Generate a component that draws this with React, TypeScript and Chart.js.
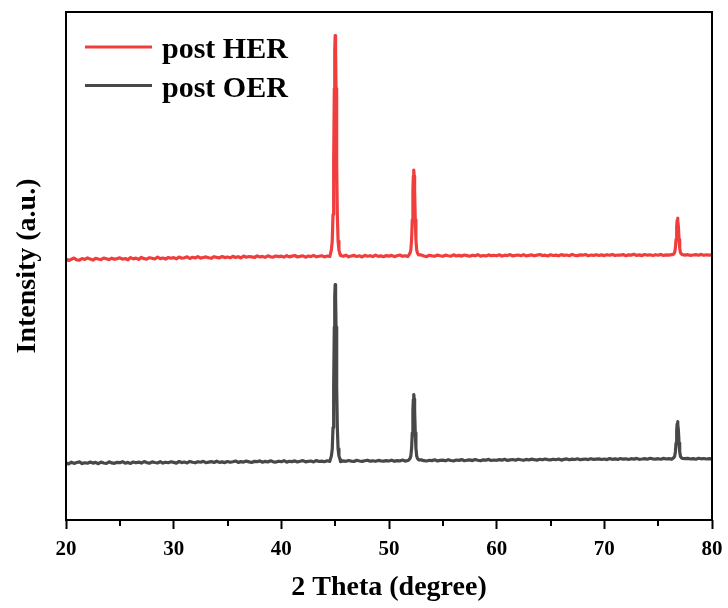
import { useEffect, useRef } from "react";
import { Chart, registerables } from "chart.js";

Chart.register(...registerables);

// Baseline samples: start angle 20°, spacing 0.25°
const gridStart = 20;
const gridStep = 0.25;

const herBaseline = [
  261, 259.5, 260.8, 261.9, 260.2, 259.8, 261.5, 260.6, 262.1, 260.9, 259.9, 261.7, 261.0, 260.3, 262.0, 261.2, 260.4, 261.8, 260.7, 261.4,
  262.2, 260.8, 261.5, 260.2, 262.4, 261.1, 261.9, 260.6, 262.6, 261.3, 260.9, 262.3, 261.7, 261.0, 262.8, 261.4, 262.0, 260.9, 262.5, 261.8,
  262.4, 261.2, 263.0, 261.8, 262.3, 263.2, 261.5, 262.7, 262.0, 263.4, 261.9, 262.5, 263.1, 262.2, 261.7, 263.3, 262.6, 262.1, 263.5, 262.4,
  263.0, 262.2, 263.7, 262.6, 263.3, 262.0, 264.0, 262.8, 263.5, 263.1, 262.5, 264.1, 263.0, 263.6, 262.7, 264.2, 263.2, 262.9, 264.0, 263.4,
  263.8, 262.9, 264.3, 263.1, 263.9, 264.5, 263.0, 263.6, 264.2, 262.8, 264.0, 263.4, 264.6, 263.2, 263.8, 264.3, 263.1, 264.0, 263.5, 264.2,
  264.1, 263.3, 264.5, 263.7, 264.8, 263.2, 264.0, 264.6, 263.5, 264.2, 263.0, 264.7, 263.8, 264.3, 263.4, 264.9, 263.6, 264.1, 263.3, 264.4,
  263.9, 264.6, 263.4, 264.2, 265.0, 263.7, 264.3, 263.5, 264.8, 263.9, 264.4, 263.6, 265.1, 264.0, 263.4, 264.7, 264.1, 263.8, 264.9, 264.2,
  263.7, 264.9, 264.3, 263.8, 265.2, 264.0, 264.6, 263.9, 265.0, 264.4, 263.8, 264.8, 264.2, 265.3, 263.9, 264.5, 264.1, 265.1, 264.3, 264.7,
  264.2, 265.2, 263.9, 264.8, 264.4, 265.4, 264.0, 264.7, 265.0, 264.3, 265.3, 264.1, 264.6, 265.1, 264.2, 264.9, 265.5, 264.4, 264.8, 264.0,
  265.2, 264.5, 264.9, 264.2, 265.4, 264.6, 265.0, 264.3, 265.6, 264.7, 264.4, 265.2, 264.8, 265.5, 264.3, 265.0, 264.6, 265.3, 264.5, 265.1,
  264.4, 265.3, 264.7, 265.6, 264.5, 265.0, 264.8, 265.4, 264.3, 265.2, 264.9, 265.7, 264.6, 265.1, 264.4, 265.5, 264.8, 265.2, 264.5, 265.3,
  264.8, 265.6, 264.6, 265.1, 264.9, 265.4, 264.7, 265.2, 264.5, 265.5, 264.9, 265.3, 264.6, 265.0, 265.4, 264.8, 265.6, 264.7, 265.2, 264.9,
  265.1,
];

const oerBaseline = [
  57.2, 56.1, 57.8, 56.6, 57.5, 58.1, 56.4, 57.3, 56.8, 58.0, 56.9, 57.6, 56.3, 57.9, 57.0, 56.5, 58.2, 57.1, 56.7, 57.7,
  57.3, 58.3, 56.8, 57.6, 56.6, 58.0, 57.2, 57.9, 56.9, 58.4, 57.4, 56.8, 58.1, 57.5, 57.0, 58.3, 56.9, 57.8, 57.3, 58.2,
  57.6, 56.9, 58.5, 57.4, 58.0, 57.1, 58.6, 57.7, 57.2, 58.3, 57.8, 58.7, 57.3, 57.9, 58.4, 57.5, 58.8, 57.6, 58.1, 57.4,
  58.5, 57.7, 58.2, 59.0, 57.6, 58.4, 57.9, 58.9, 58.1, 57.5, 58.7, 58.3, 59.1, 57.8, 58.6, 58.0, 59.2, 58.2, 57.9, 58.8,
  58.3, 59.3, 57.9, 58.7, 58.4, 59.1, 58.0, 58.8, 59.4, 58.2, 58.6, 59.0, 58.1, 59.5, 58.5, 58.9, 58.3, 59.2, 58.6, 59.0,
  58.8, 59.6, 58.4, 59.1, 58.7, 59.5, 58.9, 58.5, 59.7, 59.0, 58.6, 59.3, 59.8, 58.8, 59.2, 58.7, 59.6, 59.1, 58.9, 59.4,
  59.0, 59.8, 58.7, 59.4, 59.1, 60.0, 58.9, 59.5, 59.2, 59.9, 58.8, 59.6, 60.1, 59.3, 59.0, 59.7, 59.4, 60.2, 59.1, 59.6,
  59.9, 59.2, 60.3, 59.5, 59.1, 60.0, 59.6, 60.4, 59.3, 59.8, 60.1, 59.4, 60.5, 59.7, 59.2, 60.2, 59.8, 60.6, 59.5, 60.0,
  59.7, 60.4, 59.9, 60.7, 59.6, 60.1, 60.5, 59.8, 60.8, 60.2, 59.7, 60.6, 60.0, 60.9, 60.3, 59.9, 60.7, 60.2, 61.0, 60.4,
  60.1, 60.8, 60.3, 61.0, 59.9, 60.6, 61.1, 60.2, 60.9, 60.5, 61.2, 60.3, 60.7, 61.0, 60.4, 61.3, 60.6, 60.9, 61.1, 60.5,
  61.0, 60.4, 61.4, 60.7, 61.1, 60.6, 61.5, 60.8, 61.2, 60.5, 61.3, 60.9, 61.6, 60.7, 61.0, 61.4, 60.8, 61.7, 61.1, 60.9,
  61.3, 60.8, 61.6, 61.0, 61.4, 60.7, 61.5, 61.1, 61.8, 60.9, 61.3, 61.6, 61.0, 61.4, 60.8, 61.7, 61.2, 61.5, 61.0, 61.3,
  61.1,
];

// Peak regions (baseline samples inside these windows are replaced by the peak samples)
const peakWindows = [
  [44.52, 45.48],
  [51.8, 52.8],
  [76.3, 77.3],
];

const peakAngles = [
  44.55, 44.65, 44.73, 44.8, 44.86, 44.92, 44.96, 45.0, 45.04, 45.08, 45.14, 45.2, 45.27, 45.35, 45.45,
  51.85, 51.95, 52.03, 52.1, 52.16, 52.22, 52.26, 52.3, 52.34, 52.38, 52.44, 52.5, 52.57, 52.65, 52.75,
  76.35, 76.45, 76.53, 76.6, 76.66, 76.72, 76.76, 76.8, 76.84, 76.88, 76.94, 77.0, 77.07, 77.15, 77.25,
];
const herPeaks = [
  265.7, 270.1, 279, 305.5, 356.3, 431.5, 469, 484.5, 469, 431.5, 356.3, 305.5, 279, 270.1, 265.7,
  265.1, 266.8, 270.2, 280.5, 300.2, 329.4, 344, 350, 344, 329.4, 300.2, 280.5, 270.2, 266.8, 265.1,
  265.4, 266.1, 267.6, 272, 280.5, 293.1, 299.4, 302, 299.4, 293.1, 280.5, 272, 267.6, 266.1, 265.4,
];
const oerPeaks = [
  60.6, 64.1, 71.2, 92.4, 133, 193.1, 223.1, 235.5, 223.1, 193.1, 133, 92.4, 71.2, 64.1, 60.6,
  60.2, 61.5, 64.1, 72, 87.2, 109.7, 120.9, 125.5, 120.9, 109.7, 87.2, 72, 64.1, 61.5, 60.2,
  61.6, 62.3, 63.8, 68.3, 76.9, 89.5, 95.9, 98.5, 95.9, 89.5, 76.9, 68.3, 63.8, 62.3, 61.6,
];

const seriesLabels = ["post HER", "post OER"];
const seriesColors = ["rgb(240, 62, 62)", "rgb(72, 72, 72)"];
const xTicks = [20, 30, 40, 50, 60, 70, 80];
const xMinorTicks = [25, 35, 45, 55, 65, 75];

function buildSeries(baseline: number[], peaks: number[]) {
  const pts: { x: number; y: number }[] = [];
  baseline.forEach((v, i) => {
    const a = gridStart + i * gridStep;
    const inside = peakWindows.some(([lo, hi]) => a > lo && a < hi);
    if (!inside) pts.push({ x: a, y: v });
  });
  peakAngles.forEach((a, i) => pts.push({ x: a, y: peaks[i] }));
  pts.sort((p, q) => p.x - q.x);
  return pts;
}

const SERIF = '"Liberation Serif", "Times New Roman", serif';

const framePlugin = {
  id: "frameAndLegend",
  afterDraw(chart: any) {
    const { ctx, chartArea } = chart;
    const xs = chart.scales.x;
    ctx.save();
    // frame
    ctx.strokeStyle = "#000";
    ctx.lineWidth = 2;
    ctx.strokeRect(chartArea.left, chartArea.top, chartArea.right - chartArea.left, chartArea.bottom - chartArea.top);
    // minor ticks
    ctx.beginPath();
    xMinorTicks.forEach((v) => {
      const px = Math.round(xs.getPixelForValue(v));
      ctx.moveTo(px, chartArea.bottom);
      ctx.lineTo(px, chartArea.bottom + 6);
    });
    ctx.stroke();
    // legend
    chart.data.datasets.forEach((ds: any, i: number) => {
      const y = 47 + i * 38.5;
      ctx.strokeStyle = ds.borderColor;
      ctx.lineWidth = 3;
      ctx.beginPath();
      ctx.moveTo(85, y);
      ctx.lineTo(152, y);
      ctx.stroke();
      ctx.fillStyle = "#000";
      ctx.font = `bold 30px ${SERIF}`;
      ctx.textBaseline = "alphabetic";
      ctx.textAlign = "left";
      ctx.fillText(ds.label, 162, y + 11);
    });
    ctx.restore();
  },
};

export default function App() {
  const ref = useRef<HTMLCanvasElement | null>(null);
  useEffect(() => {
    document.body.style.margin = "0";
    const canvas = ref.current;
    if (!canvas) return;
    const chart = new Chart(canvas, {
      type: "line",
      data: {
        datasets: [
          {
            label: seriesLabels[0],
            data: buildSeries(herBaseline, herPeaks),
            borderColor: seriesColors[0],
            borderWidth: 3.2,
            borderJoinStyle: "round",
            borderCapStyle: "round",
            pointRadius: 0,
            tension: 0,
            fill: false,
          },
          {
            label: seriesLabels[1],
            data: buildSeries(oerBaseline, oerPeaks),
            borderColor: seriesColors[1],
            borderWidth: 3.2,
            borderJoinStyle: "round",
            borderCapStyle: "round",
            pointRadius: 0,
            tension: 0,
            fill: false,
          },
        ],
      },
      options: {
        animation: false,
        responsive: false,
        layout: { padding: { top: 12, right: 16, left: 0, bottom: 0 } },
        plugins: { legend: { display: false }, tooltip: { enabled: false } },
        scales: {
          x: {
            type: "linear",
            min: 20,
            max: 80,
            afterFit: (s: any) => {
              s.height = 88;
              s.paddingLeft = 0;
              s.paddingRight = 0;
            },
            afterBuildTicks: (s: any) => {
              s.ticks = xTicks.map((v) => ({ value: v }));
            },
            ticks: {
              color: "#000",
              font: { family: SERIF, size: 21, weight: "bold" },
              padding: 8,
              maxRotation: 0,
            },
            grid: {
              display: true,
              drawOnChartArea: false,
              drawTicks: true,
              tickLength: 9,
              tickWidth: 2,
              tickColor: "#000",
            },
            border: { display: false },
            title: {
              display: true,
              text: "2 Theta (degree)",
              color: "#000",
              font: { family: SERIF, size: 28, weight: "bold" },
              padding: { top: 4, bottom: 3 },
            },
          },
          y: {
            type: "linear",
            min: 0,
            max: 508,
            afterFit: (s: any) => {
              s.width = 66;
              s.paddingTop = 0;
              s.paddingBottom = 0;
            },
            ticks: { display: false },
            grid: { display: false },
            border: { display: false },
            title: {
              display: true,
              text: "Intensity (a.u.)",
              color: "#000",
              font: { family: SERIF, size: 28, weight: "bold" },
              padding: { top: 11, bottom: 4 },
            },
          },
        },
      },
      plugins: [framePlugin],
    });
    return () => chart.destroy();
  }, []);
  return <canvas ref={ref} width={728} height={608} style={{ display: "block" }} />;
}
